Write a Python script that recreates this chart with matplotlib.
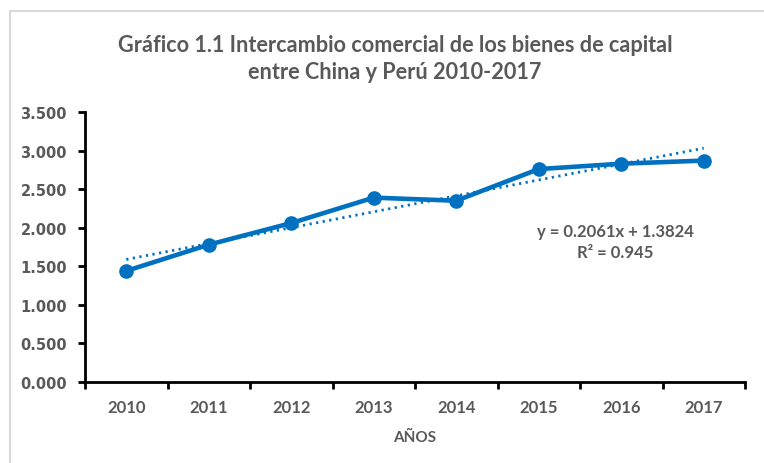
import matplotlib
matplotlib.use("Agg")
import matplotlib.pyplot as plt
from matplotlib.patches import Rectangle
import numpy as np

years = ["2010", "2011", "2012", "2013", "2014", "2015", "2016", "2017"]
values = [1.44, 1.78, 2.06, 2.39, 2.35, 2.76, 2.83, 2.87]
trend_slope = 0.2061
trend_intercept = 1.3824
r_squared = 0.945
y_ticks = [0.0, 0.5, 1.0, 1.5, 2.0, 2.5, 3.0, 3.5]
y_tick_labels = ["0.000", "0.500", "1.000", "1.500", "2.000", "2.500", "3.000", "3.500"]

title = "Gráfico 1.1 Intercambio comercial de los bienes de capital\nentre China y Perú 2010-2017"
xlabel = "AÑOS"

BLUE = "#0070C0"
GRAY = "#595959"
CAL = ["Lato", "DejaVu Sans"]

W, H = 764, 464
fig = plt.figure(figsize=(W / 100, H / 100), dpi=100)
fig.patch.set_facecolor("white")

# outer chart border
fig.patches.append(Rectangle((10 / W, -0.1), 1.2, 1 - 12 / H + 0.1, transform=fig.transFigure,
                             fill=False, edgecolor="#D9D9D9", linewidth=1.5))

ax = fig.add_axes([85 / W, 1 - 383 / H, (745 - 85) / W, (383 - 113) / H])
x = np.arange(len(years))
ax.plot(x, values, color=BLUE, linewidth=3.3, marker="o", markersize=9.5, zorder=3)

xt = np.array([x[0], x[-1]])
yt = trend_intercept + trend_slope * (xt + 1)
ax.plot(xt, yt, color=BLUE, linewidth=2, linestyle=(0, (0.8, 1.6)), zorder=2)

ax.set_xlim(-0.5, len(years) - 0.5)
ax.set_ylim(0, 3.5)
ax.set_yticks(y_ticks)
ax.set_yticklabels(y_tick_labels, fontfamily="DejaVu Sans", fontweight="bold", fontsize=10.5, color=GRAY)
ax.set_xticks(x)
ax.set_xticklabels(years, fontfamily=CAL, fontweight="bold", fontsize=12, color=GRAY)
ax.set_xticks(np.arange(-0.5, len(years)), minor=True)
ax.tick_params(axis="x", which="major", length=0, pad=12)
ax.tick_params(axis="x", which="minor", length=5, width=2, direction="out", color="black")
ax.tick_params(axis="y", which="major", length=5, width=2, direction="out", color="black", pad=8)

for s in ["top", "right"]:
    ax.spines[s].set_visible(False)
for s in ["left", "bottom"]:
    ax.spines[s].set_linewidth(2)
    ax.spines[s].set_color("black")

ax.set_xlabel(xlabel, fontfamily=CAL, fontweight="bold", fontsize=11, color=GRAY, labelpad=11)

fig.text(395 / W, 1 - 59 / H, title, ha="center", va="center", fontfamily=CAL, fontweight="bold",
         fontsize=15.6, color=GRAY, linespacing=1.4)

fig.text(615 / W, 1 - 232 / H, f"y = {trend_slope}x + {trend_intercept}", ha="center", va="center",
         fontfamily=CAL, fontweight="bold", fontsize=12, color=GRAY)
fig.text(615 / W, 1 - 253 / H, f"R² = {r_squared}", ha="center", va="center",
         fontfamily=CAL, fontweight="bold", fontsize=12, color=GRAY)

fig.savefig("out.png", dpi=100)
